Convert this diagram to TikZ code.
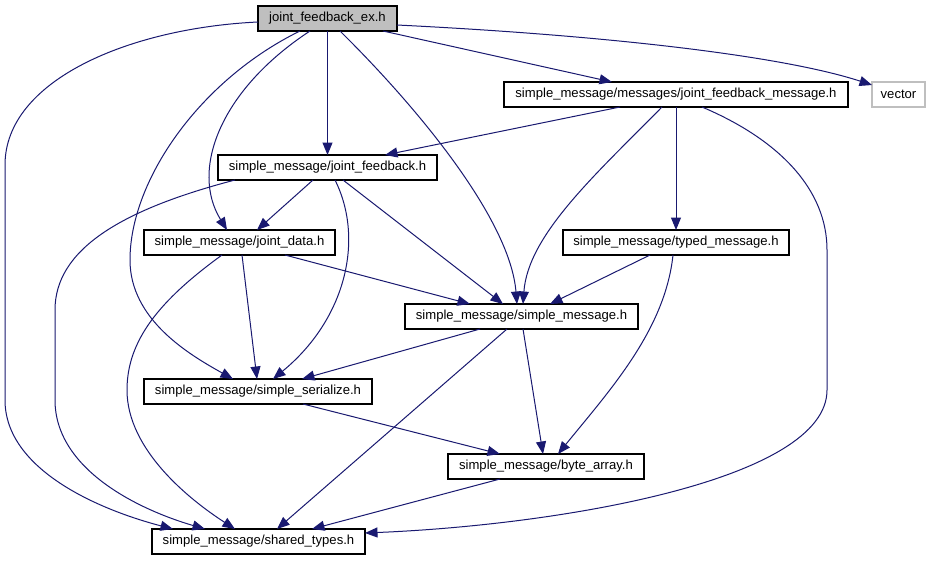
\documentclass[tikz,border=0pt]{standalone}
\usepackage{fontspec}
\setmainfont{Liberation Sans}
\usetikzlibrary{arrows.meta}
\definecolor{edgeblue}{RGB}{25,25,112}
\definecolor{nodegray}{RGB}{191,191,191}
\begin{document}
\begin{tikzpicture}[x=1pt,y=-1pt,
  box/.style={draw=black, fill=white, line width=1.1pt, inner sep=0pt, outer sep=0pt,
    minimum height=25pt, anchor=north west, font=\fontsize{13.1}{15}\selectfont},
  edge/.style={draw=edgeblue, line width=1pt, -{Triangle[length=12.5pt,width=10pt]}}]
\fill[white] (0,0) rectangle (936,560);
\useasboundingbox (0,0) rectangle (936,560);
% nodes
\node[box, fill=nodegray, minimum width=139pt] (jfex) at (258,6) {joint\_feedback\_ex.h};
\node[box, minimum width=344pt] (jfm) at (504,82) {simple\_message/messages/joint\_feedback\_message.h};
\node[box, draw=nodegray, minimum width=53pt] (vec) at (872,82) {vector};
\node[box, minimum width=219pt] (jf) at (218,155) {simple\_message/joint\_feedback.h};
\node[box, minimum width=191pt] (jd) at (144,230) {simple\_message/joint\_data.h};
\node[box, minimum width=226pt] (tm) at (563,230) {simple\_message/typed\_message.h};
\node[box, minimum width=233pt] (sm) at (405,304) {simple\_message/simple\_message.h};
\node[box, minimum width=228pt] (ss) at (144,379) {simple\_message/simple\_serialize.h};
\node[box, minimum width=196pt] (ba) at (448,454) {simple\_message/byte\_array.h};
\node[box, minimum width=213pt] (st) at (152,529) {simple\_message/shared\_types.h};
% edges from joint_feedback_ex.h
\draw[edge] (jfex.west |- 0,22) .. controls (130,28) and (5,80) .. (5,165) -- (5,400) .. controls (5,470) and (100,510) .. (st.north -| 173,0);
\draw[edge] (jfex.south -| 300,0) .. controls (200,80) and (130,180) .. (130,260) .. controls (130,320) and (190,355) .. (ss.north -| 233,0);
\draw[edge] (jfex.south -| 310,0) .. controls (220,90) and (190,170) .. (jd.north -| 227,0);
\draw[edge] (jfex.south) -- (jf.north);
\draw[edge] (jfex.south -| 340,0) .. controls (420,110) and (510,220) .. (sm.north -| 517,0);
\draw[edge] (jfex.south -| 383,0) -- (jfm.north -| 612,0);
\draw[edge] (jfex.east |- 0,25) .. controls (600,35) and (780,55) .. (vec.west |- 0,85);
% edges from joint_feedback_message.h
\draw[edge] (jfm.south -| 620,0) -- (jf.north -| 385,0);
\draw[edge] (jfm.south -| 662,0) .. controls (595,175) and (528,235) .. (sm.north -| 523,0);
\draw[edge] (jfm.south) -- (tm.north);
\draw[edge] (jfm.south -| 702,0) .. controls (780,140) and (827,190) .. (827,250) -- (827,390) .. controls (827,480) and (560,525) .. (st.east |- 0,533);
% edges from joint_feedback.h
\draw[edge] (jf.south -| 235,0) .. controls (120,210) and (55,250) .. (55,310) -- (55,400) .. controls (55,470) and (140,510) .. (st.north -| 205,0);
\draw[edge] (jf.south -| 313,0) -- (jd.north -| 257,0);
\draw[edge] (jf.south -| 335,0) .. controls (365,240) and (345,320) .. (ss.north -| 273,0);
\draw[edge] (jf.south -| 343,0) -- (sm.north -| 503,0);
% edges from joint_data.h
\draw[edge] (jd.south -| 222,0) .. controls (160,300) and (127,340) .. (127,390) .. controls (127,450) and (190,500) .. (st.north -| 235,0);
\draw[edge] (jd.south -| 242,0) -- (ss.north -| 257,0);
\draw[edge] (jd.south -| 285,0) -- (sm.north -| 470,0);
% edges from typed_message.h
\draw[edge] (tm.south -| 650,0) -- (sm.north -| 550,0);
\draw[edge] (tm.south -| 673,0) .. controls (665,330) and (610,390) .. (ba.north -| 558,0);
% edges from simple_message.h
\draw[edge] (sm.south -| 480,0) -- (ss.north -| 302,0);
\draw[edge] (sm.south -| 507,0) -- (st.north -| 277,0);
\draw[edge] (sm.south -| 523,0) -- (ba.north -| 543,0);
% edges from simple_serialize.h
\draw[edge] (ss.south -| 303,0) -- (ba.north -| 500,0);
% edges from byte_array.h
\draw[edge] (ba.south -| 500,0) -- (st.north -| 312,0);
\end{tikzpicture}
\end{document}
